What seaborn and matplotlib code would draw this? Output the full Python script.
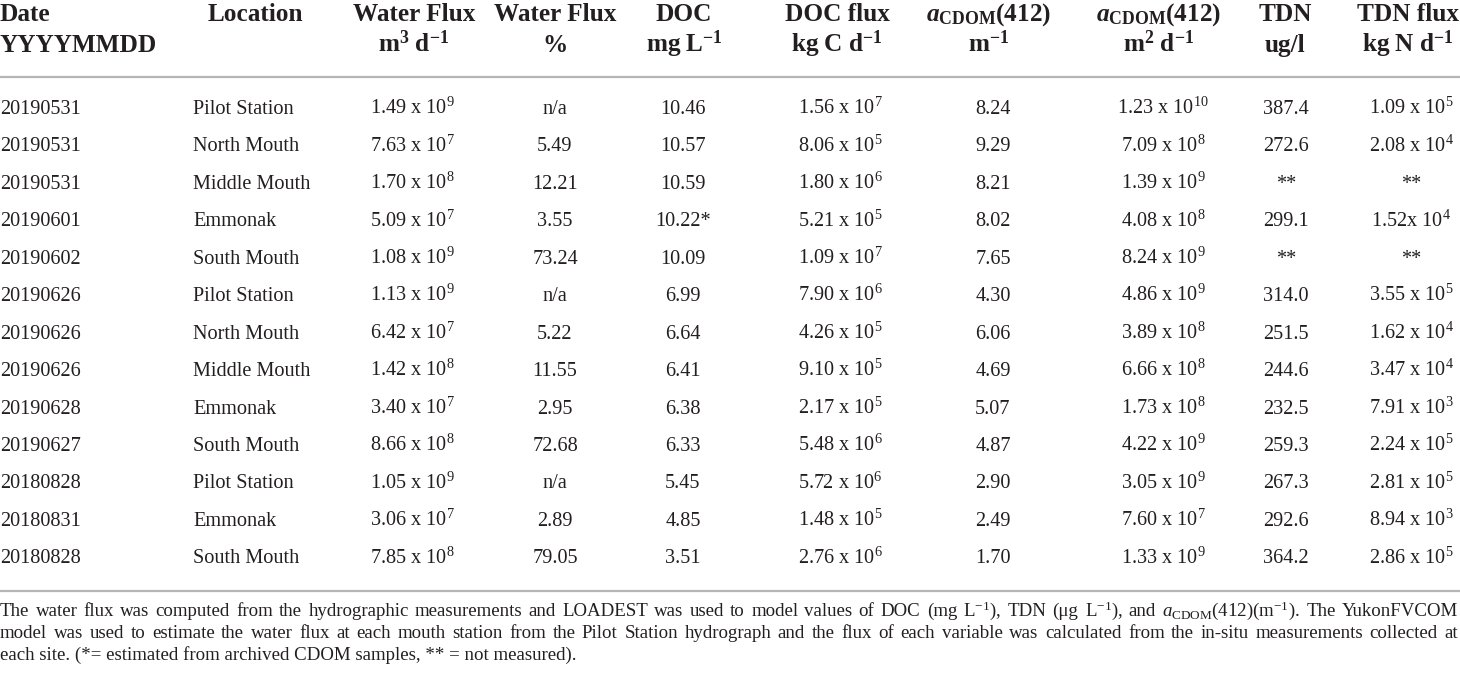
import matplotlib
matplotlib.use("Agg")
import matplotlib.pyplot as plt
import seaborn as sns

# ---------------- data ----------------
dates = ["20190531", "20190531", "20190531", "20190601", "20190602", "20190626",
         "20190626", "20190626", "20190628", "20190627", "20180828", "20180831", "20180828"]
locations = ["Pilot Station", "North Mouth", "Middle Mouth", "Emmonak", "South Mouth",
             "Pilot Station", "North Mouth", "Middle Mouth", "Emmonak", "South Mouth",
             "Pilot Station", "Emmonak", "South Mouth"]
water_flux = ["1.49 x $10^{9}$", "7.63 x $10^{7}$", "1.70 x $10^{8}$", "5.09 x $10^{7}$",
              "1.08 x $10^{9}$", "1.13 x $10^{9}$", "6.42 x $10^{7}$", "1.42 x $10^{8}$",
              "3.40 x $10^{7}$", "8.66 x $10^{8}$", "1.05 x $10^{9}$", "3.06 x $10^{7}$",
              "7.85 x $10^{8}$"]
water_pct = ["n/a", "5.49", "12.21", "3.55", "73.24", "n/a", "5.22", "11.55", "2.95",
             "72.68", "n/a", "2.89", "79.05"]
doc = ["10.46", "10.57", "10.59", "10.22*", "10.09", "6.99", "6.64", "6.41", "6.38",
       "6.33", "5.45", "4.85", "3.51"]
doc_flux = ["1.56 x $10^{7}$", "8.06 x $10^{5}$", "1.80 x $10^{6}$", "5.21 x $10^{5}$",
            "1.09 x $10^{7}$", "7.90 x $10^{6}$", "4.26 x $10^{5}$", "9.10 x $10^{5}$",
            "2.17 x $10^{5}$", "5.48 x $10^{6}$", "5.72 x $10^{6}$", "1.48 x $10^{5}$",
            "2.76 x $10^{6}$"]
acdom = ["8.24", "9.29", "8.21", "8.02", "7.65", "4.30", "6.06", "4.69", "5.07", "4.87",
         "2.90", "2.49", "1.70"]
acdom_flux = ["1.23 x $10^{10}$", "7.09 x $10^{8}$", "1.39 x $10^{9}$", "4.08 x $10^{8}$",
              "8.24 x $10^{9}$", "4.86 x $10^{9}$", "3.89 x $10^{8}$", "6.66 x $10^{8}$",
              "1.73 x $10^{8}$", "4.22 x $10^{9}$", "3.05 x $10^{9}$", "7.60 x $10^{7}$",
              "1.33 x $10^{9}$"]
tdn = ["387.4", "272.6", "**", "299.1", "**", "314.0", "251.5", "244.6", "232.5", "259.3",
       "267.3", "292.6", "364.2"]
tdn_flux = ["1.09 x $10^{5}$", "2.08 x $10^{4}$", "**", "1.52x $10^{4}$", "**",
            "3.55 x $10^{5}$", "1.62 x $10^{4}$", "3.47 x $10^{4}$", "7.91 x $10^{3}$",
            "2.24 x $10^{5}$", "2.81 x $10^{5}$", "8.94 x $10^{3}$", "2.86 x $10^{5}$"]

header_top = ["Date", "Location", "Water Flux", "Water Flux", "DOC", "DOC flux",
              r"$\mathbfit{a}_{\mathbf{CDOM}}\mathbf{(412)}$",
              r"$\mathbfit{a}_{\mathbf{CDOM}}\mathbf{(412)}$", "TDN", "TDN flux"]
header_bottom = ["YYYYMMDD", "", r"$\mathbf{m^{3}\ d^{-1}}$", "%", r"$\mathbf{mg\ L^{-1}}$",
                 r"$\mathbf{kg\ C\ d^{-1}}$", r"$\mathbf{m^{-1}}$", r"$\mathbf{m^{2}\ d^{-1}}$",
                 "ug/l", r"$\mathbf{kg\ N\ d^{-1}}$"]

footnote = [
    "The water flux was computed from the hydrographic measurements and LOADEST was used "
    "to model values of DOC (mg L$^{-1}$), TDN (\u03bcg L$^{-1}$), and "
    "$a_{\\mathrm{CDOM}}$(412)(m$^{-1}$).  The YukonFVCOM",
    "model was used to estimate the water flux at each mouth station from the Pilot Station "
    "hydrograph and the flux of each variable was calculated from the in-situ measurements collected at",
    "each site. (*= estimated from archived CDOM samples, ** = not measured).",
]
footnote_justified = [True, True, False]

columns = [dates, locations, water_flux, water_pct, doc, doc_flux, acdom, acdom_flux, tdn, tdn_flux]

# ---------------- style ----------------
sns.set_theme(style="white")
plt.rcParams["font.family"] = ["Liberation Serif", "DejaVu Serif"]
plt.rcParams["mathtext.fontset"] = "custom"
plt.rcParams["mathtext.rm"] = "Liberation Serif"
plt.rcParams["mathtext.it"] = "Liberation Serif:italic"
plt.rcParams["mathtext.bf"] = "Liberation Serif:bold"
plt.rcParams["mathtext.bfit"] = "Liberation Serif:italic:bold"

TXT = "#231f20"
LINE = "#b5b5b5"

fig = plt.figure(figsize=(14.6, 6.76), dpi=100)
ax = fig.add_axes([0, 0, 1, 1])
ax.set_xlim(0, 1460)
ax.set_ylim(676, 0)
ax.axis("off")

data_x = [0, 193, 412, 555, 683, 840, 993, 1163, 1286, 1411]
data_ha = ["left", "left"] + ["center"] * 8
head_x = [0, 255, 414, 555, 684, 837, 989, 1159, 1285, 1408]
head_ha = ["left"] + ["center"] * 9

HS = 18.2
DS = 14.6
FS = 13.6

for x, ha, t1, t2 in zip(head_x, head_ha, header_top, header_bottom):
    ax.text(x, 21, t1, ha=ha, va="baseline", fontsize=HS, fontweight="bold", color=TXT)
    if t2:
        ax.text(x, 52, t2, ha=ha, va="baseline", fontsize=HS, fontweight="bold", color=TXT)

ax.hlines([77, 591], 0, 1460, colors=LINE, linewidth=1.6)

row0, step = 114, 37.45
for x, ha, col in zip(data_x, data_ha, columns):
    for i, val in enumerate(col):
        ax.text(x, row0 + i * step, val, ha=ha, va="baseline", fontsize=DS, color=TXT)

# footnote, justified to the full width like the reference
renderer = fig.canvas.get_renderer()
inv = ax.transData.inverted()
for i, (line, just) in enumerate(zip(footnote, footnote_justified)):
    y = 616 + i * 22
    if not just:
        ax.text(0, y, line, ha="left", va="baseline", fontsize=FS, color=TXT)
        continue
    words = line.split()
    arts = [ax.text(0, y, w, ha="left", va="baseline", fontsize=FS, color=TXT) for w in words]
    widths = []
    for a in arts:
        bb = a.get_window_extent(renderer)
        x0 = inv.transform((bb.x0, 0))[0]
        x1 = inv.transform((bb.x1, 0))[0]
        widths.append(x1 - x0)
    gap = (1458 - sum(widths)) / (len(words) - 1)
    xpos = 0.0
    for a, w in zip(arts, widths):
        a.set_x(xpos)
        xpos += w + gap

fig.savefig("out.png", dpi=100)
